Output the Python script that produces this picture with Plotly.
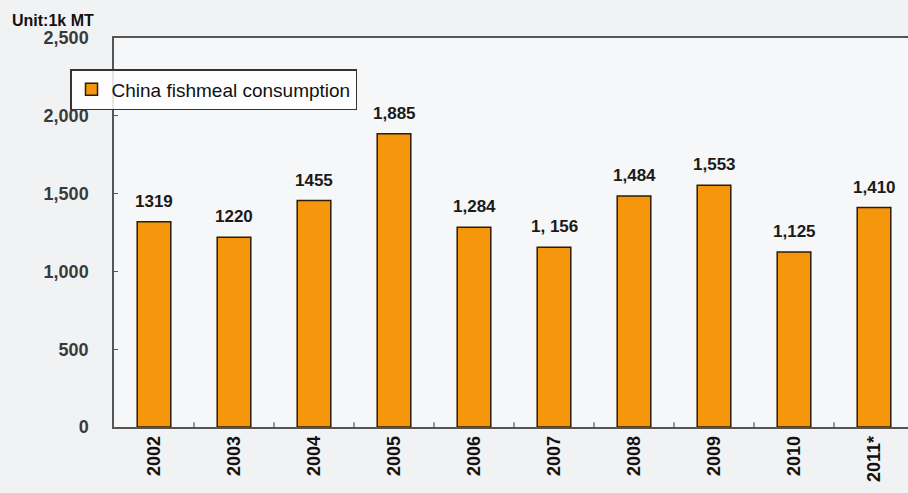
import plotly.graph_objects as go

years = ["2002", "2003", "2004", "2005", "2006", "2007", "2008", "2009", "2010", "2011*"]
consumption = [1319, 1220, 1455, 1885, 1284, 1156, 1484, 1553, 1125, 1410]
value_labels = ["1319", "1220", "1455", "1,885", "1,284", "1, 156", "1,484", "1,553", "1,125", "1,410"]
y_ticks = [0, 500, 1000, 1500, 2000, 2500]
y_tick_labels = ["0", "500", "1,000", "1,500", "2,000", "2,500"]

W, H = 908, 493
L, R, T, B = 114, 0, 38, 66
ph = H - T - B
pw = W - L - R

fig = go.Figure()
fig.add_trace(go.Bar(
    x=list(range(len(years))),
    y=consumption,
    name="China fishmeal consumption",
    marker=dict(color="#F5960C", line=dict(color="#2b1d08", width=1.5)),
    width=0.42,
))

annotations = [dict(
    text="<b>Unit:1k MT</b>", x=(10 - L) / pw, y=1 + (T - 10) / ph,
    xref="paper", yref="paper", xanchor="left", yanchor="top",
    showarrow=False, font=dict(size=16, color="#111"),
)]
for i, (v, lab) in enumerate(zip(consumption, value_labels)):
    annotations.append(dict(
        x=i, y=v, xref="x", yref="y", text=f"<b>{lab}</b>",
        showarrow=False, yanchor="bottom", yshift=9,
        font=dict(size=17, color="#1a1a1a"),
    ))

fig.update_layout(
    width=W, height=H,
    margin=dict(l=L, r=R, t=T, b=B),
    paper_bgcolor="#f1f2f4",
    plot_bgcolor="#f6f7f8",
    font=dict(family="Liberation Sans", color="#222"),
    showlegend=True,
    legend=dict(
        x=(70 - L) / pw, y=(427 - 69) / ph, xanchor="left", yanchor="top",
        bgcolor="rgba(255,255,255,0.85)", bordercolor="#333", borderwidth=1.5,
        font=dict(size=19, color="#111"),
        itemwidth=30, tracegroupgap=0,
    ),
    xaxis=dict(
        range=[-0.5, 9.425],
        tickmode="array",
        tickvals=list(range(len(years))),
        ticktext=[f"<b>{y}</b>" for y in years],
        tickangle=-90,
        tickfont=dict(size=18, color="#111"),
        showgrid=False,
        showline=True, linecolor="#555", linewidth=1.5, mirror=True,
        ticks="",
        zeroline=False,
    ),
    yaxis=dict(
        range=[0, 2500],
        tickmode="array",
        tickvals=y_ticks,
        ticktext=[f"<b>{t}</b>" for t in y_tick_labels],
        tickfont=dict(size=18, color="#3a3a3a"),
        ticklabelstandoff=20,
        showgrid=False,
        showline=True, linecolor="#555", linewidth=1.5,
        ticks="inside", ticklen=4, tickcolor="#555",
        zeroline=False,
    ),
    annotations=annotations,
)

# minor tick marks between categories on the x axis (inside)
for i in range(len(years)):
    fig.add_shape(type="line", xref="x", yref="paper",
                  x0=i + 0.5, x1=i + 0.5, y0=0, y1=0.012,
                  line=dict(color="#555", width=1.2))

fig.write_html("out.html")
